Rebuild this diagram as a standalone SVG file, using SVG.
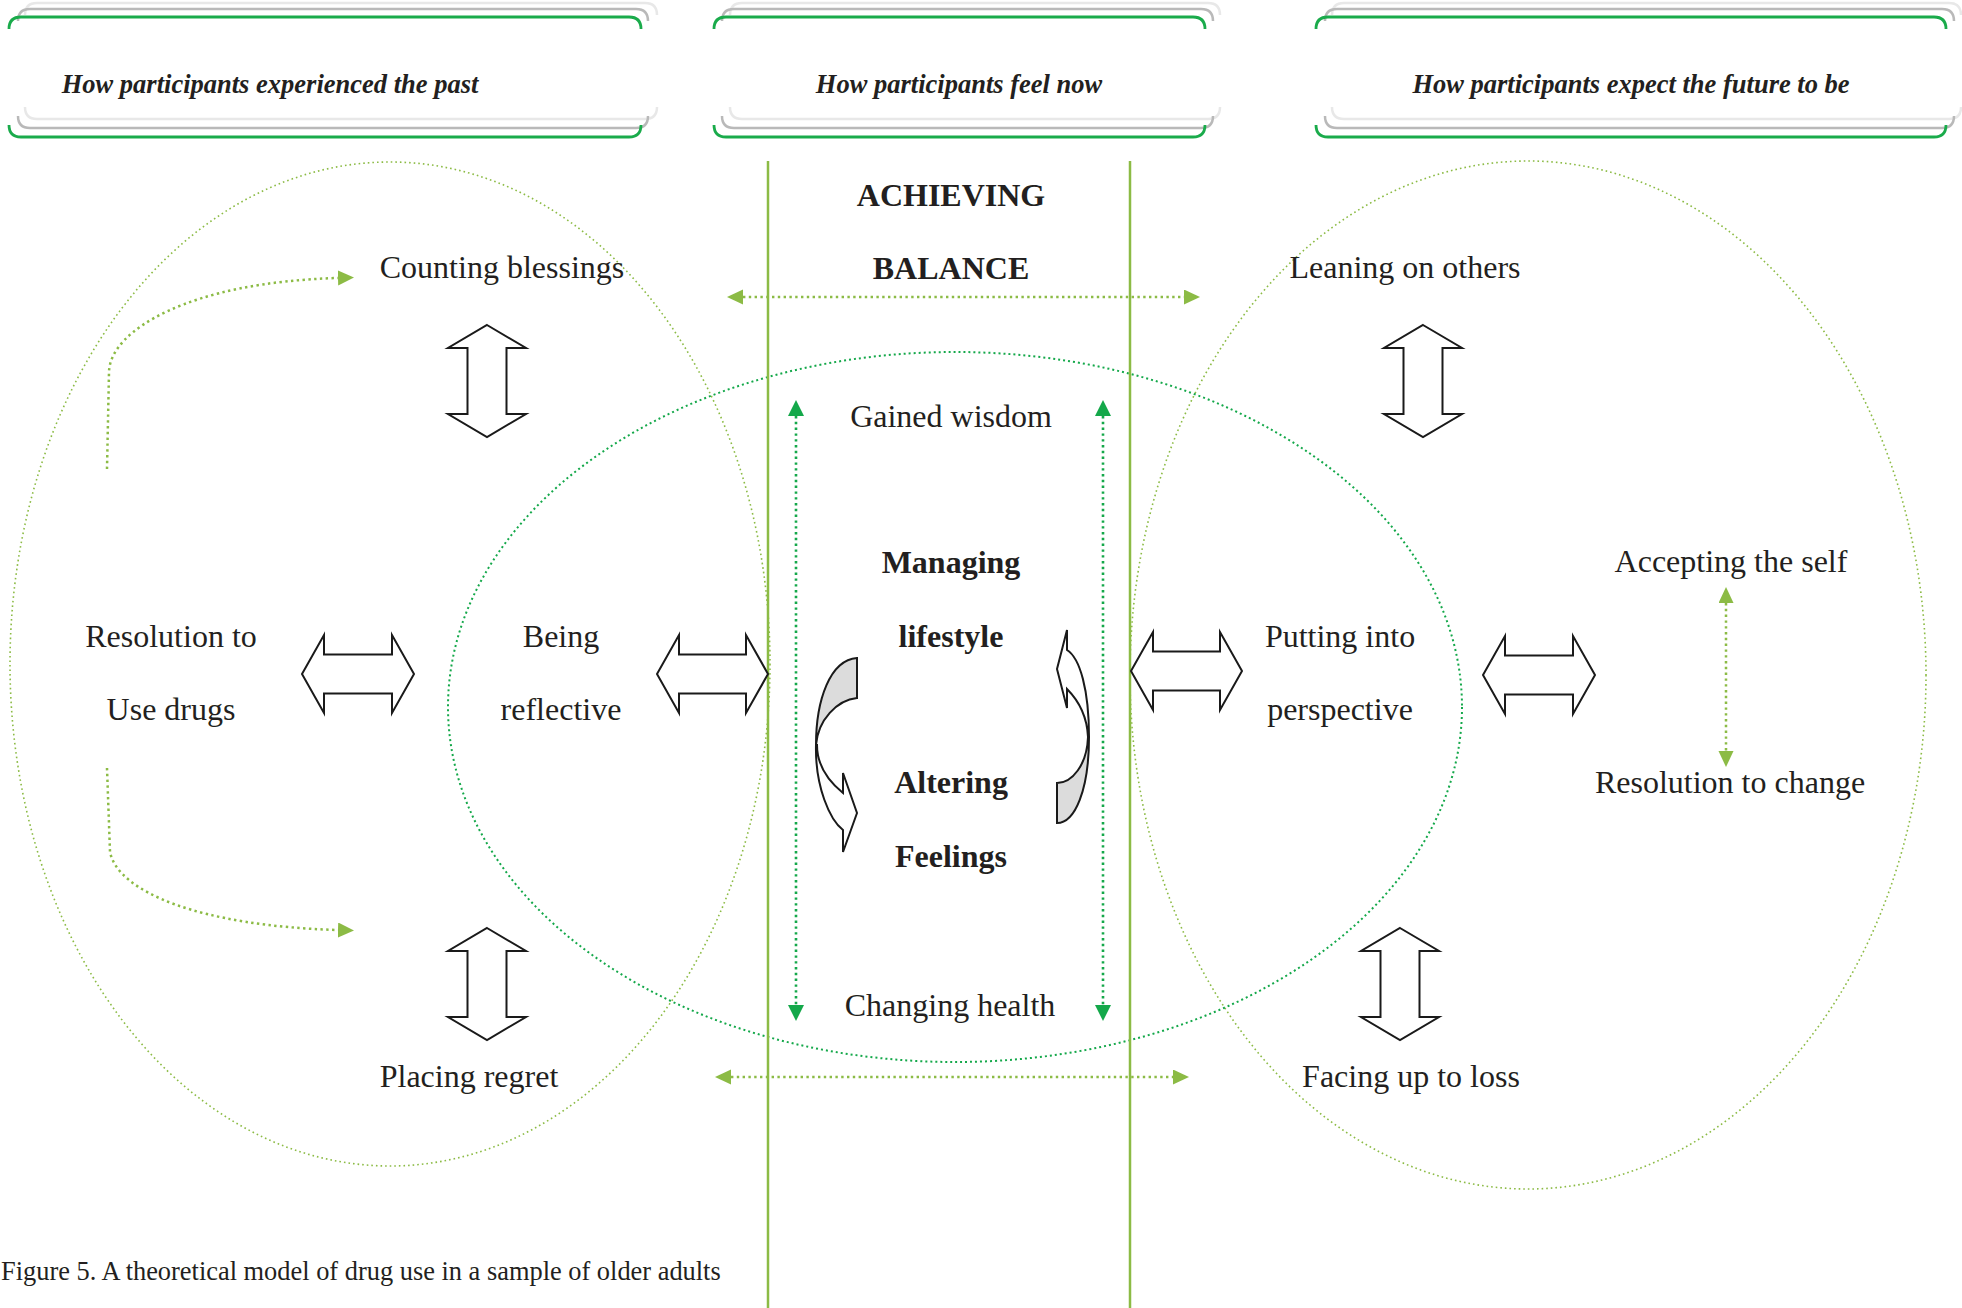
<svg xmlns="http://www.w3.org/2000/svg" width="1962" height="1308" viewBox="0 0 1962 1308">
<defs>
<style>
.lbl{font-family:"Liberation Serif","Times New Roman",serif;font-size:32px;fill:#231f20;text-anchor:middle}
.bold{font-weight:bold}
.hdr{font-family:"Liberation Serif","Times New Roman",serif;font-size:26.5px;font-weight:bold;font-style:italic;fill:#231f20;text-anchor:middle}
.cap{font-family:"Liberation Serif","Times New Roman",serif;font-size:26.4px;fill:#231f20}
.brL{fill:none;stroke:#e8e8e8;stroke-width:2.5}
.brG{fill:none;stroke:#b9b9b9;stroke-width:2.5}
.brN{fill:none;stroke:#1aab4b;stroke-width:2.8}
.ellO{fill:none;stroke:#8cbb45;stroke-width:1.6;stroke-dasharray:1.6 3}
.ellG{fill:none;stroke:#14a84a;stroke-width:2;stroke-dasharray:2 3}
.vline{stroke:#8cbb45;stroke-width:2.5}
.dotO{fill:none;stroke:#8cbb45;stroke-width:2.5;stroke-dasharray:2.4 3.4}
.dotG{fill:none;stroke:#14a84a;stroke-width:2.6;stroke-dasharray:2.4 3.4}
.blk{fill:#fff;stroke:#1a1a1a;stroke-width:2;stroke-linejoin:miter}
.gry{fill:#dcdcdc;stroke:#1a1a1a;stroke-width:2}
</style>
<marker id="hO" markerUnits="userSpaceOnUse" markerWidth="18" markerHeight="16" refX="0" refY="7.5" orient="auto-start-reverse">
<path d="M0,0 L16,7.5 L0,15 Z" fill="#8cbb45"/>
</marker>
<marker id="hG" markerUnits="userSpaceOnUse" markerWidth="18" markerHeight="18" refX="0" refY="8" orient="auto-start-reverse">
<path d="M0,0 L16,8 L0,16 Z" fill="#14a84a"/>
</marker>
</defs>
<rect width="1962" height="1308" fill="#fff"/>

<g id="regions">
<ellipse class="ellO" cx="390" cy="664" rx="380" ry="502"/>
<ellipse class="ellO" cx="1528" cy="675" rx="398" ry="514"/>
<ellipse class="ellG" cx="955" cy="707" rx="507" ry="355"/>
<line class="vline" x1="768" y1="161" x2="768" y2="1308"/>
<line class="vline" x1="1130" y1="161" x2="1130" y2="1308"/>
</g>

<g id="header-past">
<path class="brL" d="M25,15 Q25,3 37,3 H645 Q657,3 657,15 M25,107 Q25,119 37,119 H645 Q657,119 657,107"/>
<path class="brG" d="M18,21 Q18,9 30,9 H636 Q648,9 648,21 M18,116 Q18,128 30,128 H636 Q648,128 648,116"/>
<path class="brN" d="M9,29 Q9,17 21,17 H629 Q641,17 641,29 M9,125 Q9,137 21,137 H629 Q641,137 641,125"/>
<text class="hdr" x="270" y="93">How participants experienced the past</text>
</g>
<g id="header-now">
<path class="brL" d="M730,15 Q730,3 742,3 H1208 Q1220,3 1220,15 M730,107 Q730,119 742,119 H1208 Q1220,119 1220,107"/>
<path class="brG" d="M722,21 Q722,9 734,9 H1201 Q1213,9 1213,21 M722,116 Q722,128 734,128 H1201 Q1213,128 1213,116"/>
<path class="brN" d="M714,29 Q714,17 726,17 H1193 Q1205,17 1205,29 M714,125 Q714,137 726,137 H1193 Q1205,137 1205,125"/>
<text class="hdr" x="959" y="93">How participants feel now</text>
</g>
<g id="header-future">
<path class="brL" d="M1332,15 Q1332,3 1344,3 H1949 Q1961,3 1961,15 M1332,107 Q1332,119 1344,119 H1949 Q1961,119 1961,107"/>
<path class="brG" d="M1325,21 Q1325,9 1337,9 H1942 Q1954,9 1954,21 M1325,116 Q1325,128 1337,128 H1942 Q1954,128 1954,116"/>
<path class="brN" d="M1316,29 Q1316,17 1328,17 H1934 Q1946,17 1946,29 M1316,125 Q1316,137 1328,137 H1934 Q1946,137 1946,125"/>
<text class="hdr" x="1631" y="93">How participants expect the future to be</text>
</g>

<g id="connectors">
<line class="dotO" x1="743" y1="297" x2="1184" y2="297" marker-start="url(#hO)" marker-end="url(#hO)"/>
<line class="dotO" x1="731" y1="1077" x2="1173" y2="1077" marker-start="url(#hO)" marker-end="url(#hO)"/>
<line class="dotG" x1="796" y1="416" x2="796" y2="1005" marker-start="url(#hG)" marker-end="url(#hG)"/>
<line class="dotG" x1="1103" y1="416" x2="1103" y2="1005" marker-start="url(#hG)" marker-end="url(#hG)"/>
<line class="dotO" x1="1726" y1="603" x2="1726" y2="751" marker-start="url(#hO)" marker-end="url(#hO)"/>
<path class="dotO" d="M107,469 L109,372 C110,330 190,282 338,278" marker-end="url(#hO)"/>
<path class="dotO" d="M107,768 L110,852 C118,892 200,926 338,930" marker-end="url(#hO)"/>
<path class="blk" d="M487,325 L526,348 L506.5,348 L506.5,414 L526,414 L487,437 L448,414 L467.5,414 L467.5,348 L448,348 Z"/>
<path class="blk" d="M487,928 L526,951 L506.5,951 L506.5,1017 L526,1017 L487,1040 L448,1017 L467.5,1017 L467.5,951 L448,951 Z"/>
<path class="blk" d="M1423,325 L1462,348 L1442.5,348 L1442.5,414 L1462,414 L1423,437 L1384,414 L1403.5,414 L1403.5,348 L1384,348 Z"/>
<path class="blk" d="M1400,928 L1439,951 L1419.5,951 L1419.5,1017 L1439,1017 L1400,1040 L1361,1017 L1380.5,1017 L1380.5,951 L1361,951 Z"/>
<path class="blk" d="M302,674 L324,635 L324,654.5 L392,654.5 L392,635 L414,674 L392,713 L392,693.5 L324,693.5 L324,713 Z"/>
<path class="blk" d="M657,674 L679,635 L679,654.5 L746,654.5 L746,635 L768,674 L746,713 L746,693.5 L679,693.5 L679,713 Z"/>
<path class="blk" d="M1131,671 L1153,632 L1153,651.5 L1220,651.5 L1220,632 L1242,671 L1220,710 L1220,690.5 L1153,690.5 L1153,710 Z"/>
<path class="blk" d="M1483,675 L1505,636 L1505,655.5 L1573,655.5 L1573,636 L1595,675 L1573,714 L1573,694.5 L1505,694.5 L1505,714 Z"/>
<path class="gry" d="M857,658 C830,660 816,700 816,745 C818,720 837,700 857,698 Z"/>
<path class="blk" d="M816,745 C815,787 830,820 843,830 L843,852 L857,813 L843,773 L843,793 C827,780 817,763 817,745 Z"/>
<path class="blk" d="M1088,737 C1087,715 1078,700 1067,689 L1067,708 L1057,669 L1067,630 L1067,650 C1080,658 1089,690 1089,737 Z"/>
<path class="gry" d="M1089,737 C1089,790 1075,823 1057,823 L1057,783 C1072,783 1087,765 1088,737 Z"/>
</g>

<g id="node-achieving-balance">
<text class="lbl bold" x="951" y="206">ACHIEVING</text>
<text class="lbl bold" x="951" y="279">BALANCE</text>
</g>
<g id="node-counting-blessings"><text class="lbl" x="502" y="278">Counting blessings</text></g>
<g id="node-leaning-on-others"><text class="lbl" x="1405" y="278">Leaning on others</text></g>
<g id="node-gained-wisdom"><text class="lbl" x="951" y="427">Gained wisdom</text></g>
<g id="node-managing-lifestyle">
<text class="lbl bold" x="951" y="573">Managing</text>
<text class="lbl bold" x="951" y="647">lifestyle</text>
</g>
<g id="node-altering-feelings">
<text class="lbl bold" x="951" y="793">Altering</text>
<text class="lbl bold" x="951" y="867">Feelings</text>
</g>
<g id="node-changing-health"><text class="lbl" x="950" y="1016">Changing health</text></g>
<g id="node-resolution-use">
<text class="lbl" x="171" y="647">Resolution to</text>
<text class="lbl" x="171" y="720">Use drugs</text>
</g>
<g id="node-being-reflective">
<text class="lbl" x="561" y="647">Being</text>
<text class="lbl" x="561" y="720">reflective</text>
</g>
<g id="node-putting-into-perspective">
<text class="lbl" x="1340" y="647">Putting into</text>
<text class="lbl" x="1340" y="720">perspective</text>
</g>
<g id="node-accepting-self"><text class="lbl" x="1731" y="572">Accepting the self</text></g>
<g id="node-resolution-change"><text class="lbl" x="1730" y="793">Resolution to change</text></g>
<g id="node-placing-regret"><text class="lbl" x="469" y="1087">Placing regret</text></g>
<g id="node-facing-loss"><text class="lbl" x="1411" y="1087">Facing up to loss</text></g>

<text class="cap" x="1" y="1280">Figure 5. A theoretical model of drug use in a sample of older adults</text>
</svg>
